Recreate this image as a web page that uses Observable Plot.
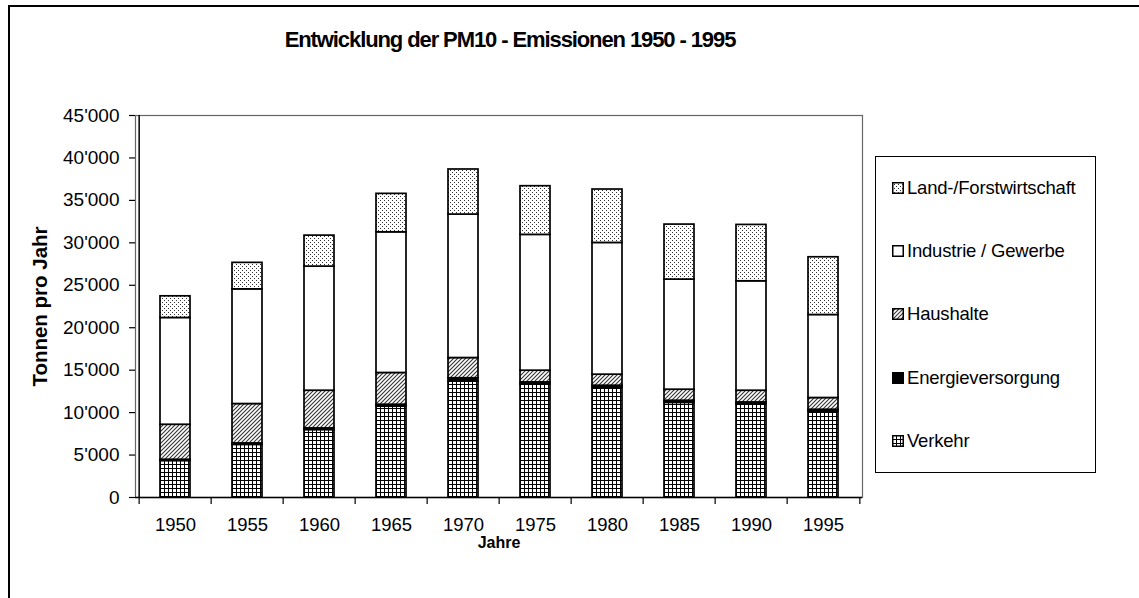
<!DOCTYPE html>
<html>
<head>
<meta charset="utf-8">
<script src="https://cdn.jsdelivr.net/npm/d3@7"></script>
<script src="https://cdn.jsdelivr.net/npm/@observablehq/plot@0.6"></script>
<style>
  html, body { margin: 0; padding: 0; background: #fff; }
  body { width: 1139px; height: 598px; position: relative; overflow: hidden; font-family: "Liberation Sans", Arial, sans-serif; }
  #frame { position: absolute; left: 8px; top: 5px; width: 1200px; height: 700px; border-top: 2px solid #000; border-left: 2px solid #000; box-sizing: border-box; }
  #title { position: absolute; left: 0; width: 1020px; top: 27px; text-align: center; font-weight: bold; font-size: 22px; letter-spacing: -1.1px; color: #000; }
  #chart { position: absolute; left: 0; top: 0; }
  #legend { position: absolute; left: 875px; top: 156px; width: 221px; height: 317px; border: 1.5px solid #000; box-sizing: border-box; background: #fff; }
  .item { position: absolute; left: 16px; font-size: 18.5px; letter-spacing: -0.2px; display: flex; align-items: center; color: #000; white-space: nowrap; }
  .item svg { margin-right: 3px; }
</style>
</head>
<body>
<svg width="0" height="0" style="position:absolute">
  <defs>
    <pattern id="pGrid" width="4" height="4" patternUnits="userSpaceOnUse">
      <rect width="4" height="4" fill="#fff"/>
      <path d="M0 0.5H4M0.5 0V4" stroke="#000" stroke-width="1"/>
    </pattern>
    <pattern id="pHatch" width="4" height="4" patternUnits="userSpaceOnUse">
      <rect width="4" height="4" fill="#fff"/>
      <path d="M-1 1L1 -1M0 4L4 0M3 5L5 3" stroke="#333" stroke-width="1.1"/>
    </pattern>
    <pattern id="pDots" width="4" height="4" patternUnits="userSpaceOnUse">
      <rect width="4" height="4" fill="#fff"/>
      <rect x="0" y="0" width="1" height="1" fill="#333"/>
      <rect x="2" y="2" width="1" height="1" fill="#333"/>
    </pattern>
  </defs>
</svg>
<div id="frame"></div>
<div id="title">Entwicklung der PM10 - Emissionen 1950 - 1995</div>
<div id="chart"></div>
<div id="legend"></div>
<script>
// ---- data ----
const years = ["1950","1955","1960","1965","1970","1975","1980","1985","1990","1995"];
const series = ["Verkehr","Energieversorgung","Haushalte","Industrie / Gewerbe","Land-/Forstwirtschaft"];
const verkehr      = [4300, 6200, 7950, 10700, 13650, 13300, 12900, 11150, 10950, 10100];
const energie      = [150, 170, 190, 230, 400, 260, 270, 250, 250, 240];
const haushalte    = [4120, 4640, 4440, 3740, 2380, 1380, 1300, 1300, 1380, 1380];
const industrie    = [12580, 13510, 14620, 16570, 16900, 16000, 15520, 12970, 12890, 9780];
const landForst    = [2550, 3120, 3650, 4530, 5310, 5730, 6290, 6480, 6640, 6800];
const yTicks = [0, 5000, 10000, 15000, 20000, 25000, 30000, 35000, 40000, 45000];
const legendOrder = ["Land-/Forstwirtschaft","Industrie / Gewerbe","Haushalte","Energieversorgung","Verkehr"];
const fills = ["url(#pGrid)", "#000", "url(#pHatch)", "#fff", "url(#pDots)"];

const valuesBySeries = [verkehr, energie, haushalte, industrie, landForst];
const rows = [];
series.forEach((s, si) => years.forEach((y, yi) => rows.push({year: y, series: s, value: valuesBySeries[si][yi]})));

const fmt = d3.formatLocale({decimal: ".", thousands: "'", grouping: [3], currency: ["", ""]}).format(",");

const W = 1139, H = 598, mL = 135, mR = 277, mT = 115, mB = 101;
const step = (W - mL - mR) / years.length;

const chart = Plot.plot({
  width: W, height: H,
  marginLeft: mL, marginRight: mR, marginTop: mT, marginBottom: mB,
  style: {fontFamily: "Liberation Sans, Arial, sans-serif", fontSize: "19px", color: "#000", background: "transparent"},
  x: {domain: years, paddingInner: 0.59, paddingOuter: 0.295},
  y: {domain: [0, 45000]},
  color: {domain: series, range: fills},
  marks: [
    Plot.frame({stroke: "#666", strokeWidth: 1.2}),
    Plot.barY(rows, Plot.stackY({order: series}, {x: "year", y: "value", fill: "series", stroke: "#000", strokeWidth: 1.7})),
    Plot.ruleY([0], {stroke: "#000", strokeWidth: 1.5}),
    Plot.ruleX([years[0]], {dx: -step / 2, stroke: "#000", strokeWidth: 1.5}),
    Plot.axisY({ticks: yTicks, tickSize: 6, tickPadding: 10, tickFormat: fmt, label: null, fontSize: 19, stroke: "#000", strokeWidth: 1.2}),
    Plot.axisX({ticks: years, tickSize: 7, text: null, dx: -step / 2, label: null, stroke: "#000", strokeWidth: 1.2}),
    Plot.axisX({ticks: [years[years.length - 1]], tickSize: 7, text: null, dx: step / 2, label: null, stroke: "#000", strokeWidth: 1.2}),
    Plot.axisX({ticks: years, tickSize: 0, tickPadding: 20, label: null, fontSize: 18.5}),
    Plot.text(["Jahre"], {frameAnchor: "bottom", dy: 50, fontWeight: "bold", fontSize: 16}),
    Plot.text(["Tonnen pro Jahr"], {frameAnchor: "left", textAnchor: "middle", dx: -95, rotate: -90, fontWeight: "bold", fontSize: 20.5})
  ]
});
document.getElementById("chart").appendChild(chart);

// ---- legend ----
const legend = document.getElementById("legend");
legendOrder.forEach((name, i) => {
  const f = fills[series.indexOf(name)];
  const div = document.createElement("div");
  div.className = "item";
  div.style.top = (20 + i * 63.2) + "px";
  div.innerHTML = `<svg width="12" height="12"><rect x="0.75" y="0.75" width="10.5" height="10.5" fill="${f}" stroke="#000" stroke-width="1.5"/></svg><span>${name}</span>`;
  legend.appendChild(div);
});
</script>
</body>
</html>
